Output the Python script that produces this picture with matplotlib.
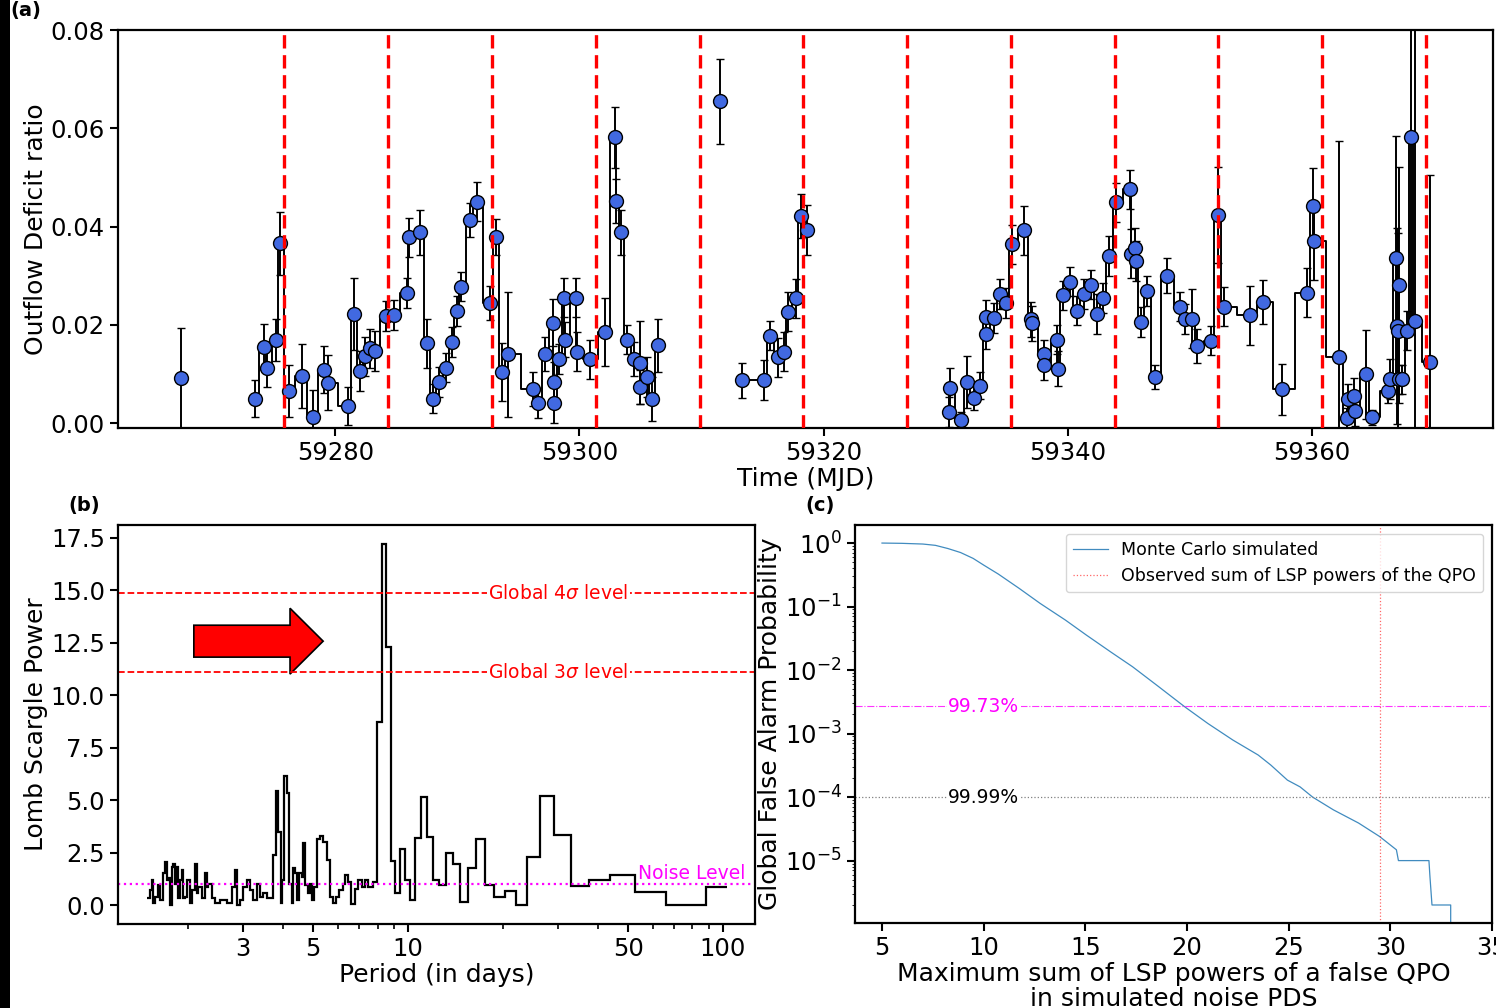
import numpy as np
import matplotlib
matplotlib.use('Agg')
import matplotlib.pyplot as plt
from matplotlib.patches import FancyArrow, Rectangle

plt.rcParams['font.family'] = 'DejaVu Sans'
plt.rcParams['mathtext.fontset'] = 'dejavusans'
plt.rcParams['axes.linewidth'] = 1.6

# ---------------- (a) outflow deficit ratio light curve ----------------
mjd = [59267.33,
       59273.39, 59274.13, 59274.43, 59275.13, 59275.43, 59276.18, 59277.23, 59278.13, 59279.10, 59279.43,
       59281.03, 59281.53, 59282.03, 59282.43, 59282.83, 59283.23, 59284.13, 59284.83, 59285.83, 59286.03,
       59286.93, 59287.53, 59288.03, 59288.53, 59289.03, 59289.53, 59289.93, 59290.33, 59291.03, 59291.59,
       59292.63, 59293.13, 59293.63, 59294.18, 59296.23, 59296.61, 59297.19, 59297.83, 59297.88, 59297.93,
       59298.33, 59298.73, 59298.78, 59299.73, 59299.78, 59300.83, 59302.13, 59302.93, 59302.98, 59303.43,
       59303.93, 59304.48, 59304.93, 59304.98, 59305.53, 59305.93, 59306.43,
       59311.53,
       59313.33, 59315.13, 59315.63, 59316.23, 59316.73, 59317.08, 59317.73, 59318.13, 59318.63,
       59330.28, 59330.33, 59331.23, 59331.73, 59332.33, 59332.83, 59333.28, 59333.33, 59333.93, 59334.43,
       59334.93, 59335.43, 59336.43, 59337.03, 59337.08, 59338.03, 59338.08, 59339.13, 59339.18, 59339.63,
       59340.23, 59340.73, 59341.33, 59341.93, 59342.43, 59342.93, 59343.43, 59343.93, 59345.13, 59345.18,
       59345.53, 59345.58, 59346.03, 59346.53, 59347.13, 59348.13, 59349.23, 59349.63, 59350.23, 59350.63,
       59351.73, 59352.33, 59352.83, 59354.93, 59356.03, 59357.60, 59359.63, 59360.13, 59360.18, 59362.23,
       59362.93, 59362.98, 59363.43, 59363.53, 59364.43, 59364.93, 59366.23, 59366.43, 59366.93, 59367.03,
       59367.08, 59367.13, 59367.18, 59367.43, 59367.83, 59368.13, 59368.43, 59369.73]
ratio = [0.0091,
         0.0050, 0.0155, 0.0113, 0.0169, 0.0366, 0.0065, 0.0096, 0.0013, 0.0109, 0.0082,
         0.0035, 0.0222, 0.0106, 0.0136, 0.0152, 0.0147, 0.0218, 0.0220, 0.0265, 0.0378,
         0.0388, 0.0162, 0.0050, 0.0084, 0.0113, 0.0165, 0.0228, 0.0278, 0.0413, 0.0451,
         0.0244, 0.0379, 0.0104, 0.0140, 0.0069, 0.0041, 0.0140, 0.0204, 0.0084, 0.0041,
         0.0130, 0.0255, 0.0170, 0.0255, 0.0145, 0.0130, 0.0185, 0.0582, 0.0452, 0.0388,
         0.0170, 0.0130, 0.0123, 0.0074, 0.0094, 0.0049, 0.0158,
         0.0655,
         0.0087, 0.0088, 0.0178, 0.0134, 0.0145, 0.0227, 0.0254, 0.0421, 0.0393,
         0.0023, 0.0072, 0.0007, 0.0084, 0.0052, 0.0076, 0.0215, 0.0181, 0.0214, 0.0263,
         0.0244, 0.0364, 0.0392, 0.0211, 0.0203, 0.0140, 0.0118, 0.0170, 0.0111, 0.0260,
         0.0288, 0.0229, 0.0263, 0.0282, 0.0222, 0.0255, 0.0340, 0.0449, 0.0476, 0.0345,
         0.0357, 0.0330, 0.0206, 0.0269, 0.0094, 0.0300, 0.0237, 0.0212, 0.0212, 0.0157,
         0.0168, 0.0424, 0.0237, 0.0219, 0.0246, 0.0069, 0.0265, 0.0442, 0.0371, 0.0135,
         0.0010, 0.0049, 0.0056, 0.0024, 0.0099, 0.0012, 0.0065, 0.0090, 0.0335, 0.0198,
         0.0187, 0.0281, 0.0089, 0.0089, 0.0188, 0.0582, 0.0208, 0.0125]
ratio_err = [0.0102,
             0.0037, 0.0046, 0.0040, 0.0043, 0.0064, 0.0053, 0.0065, 0.0054, 0.0048, 0.0056,
             0.0039, 0.0073, 0.0040, 0.0040, 0.0040, 0.0040, 0.0030, 0.0030, 0.0030, 0.0039,
             0.0045, 0.0050, 0.0030, 0.0030, 0.0030, 0.0030, 0.0030, 0.0030, 0.0035, 0.0040,
             0.0035, 0.0036, 0.0060, 0.0127, 0.0035, 0.0030, 0.0035, 0.0048, 0.0040, 0.0040,
             0.0030, 0.0040, 0.0035, 0.0040, 0.0040, 0.0040, 0.0069, 0.0062, 0.0045, 0.0045,
             0.0030, 0.0035, 0.0085, 0.0035, 0.0040, 0.0045, 0.0054,
             0.0087,
             0.0035, 0.0040, 0.0030, 0.0040, 0.0040, 0.0040, 0.0040, 0.0045, 0.0050,
             0.0030, 0.0040, 0.0015, 0.0053, 0.0025, 0.0027, 0.0035, 0.0030, 0.0030, 0.0030,
             0.0030, 0.0040, 0.0050, 0.0035, 0.0035, 0.0030, 0.0030, 0.0030, 0.0035, 0.0030,
             0.0030, 0.0030, 0.0030, 0.0030, 0.0040, 0.0030, 0.0040, 0.0040, 0.0040, 0.0050,
             0.0040, 0.0040, 0.0030, 0.0030, 0.0025, 0.0035, 0.0030, 0.0030, 0.0060, 0.0035,
             0.0030, 0.0098, 0.0040, 0.0060, 0.0045, 0.0052, 0.0050, 0.0078, 0.0080, 0.0440,
             0.0020, 0.0030, 0.0035, 0.0030, 0.0090, 0.0015, 0.0025, 0.0040, 0.0250, 0.0200,
             0.0200, 0.0240, 0.0030, 0.0030, 0.0040, 0.0400, 0.0800, 0.0380]
# observing gaps the step line does not bridge
line_breaks = [59270, 59309, 59312.5, 59325]
# expected QPO cycle times
cycle_mjd = [59275.79, 59284.32, 59292.84, 59301.37, 59309.89, 59318.33,
             59326.86, 59335.38, 59343.91, 59352.35, 59360.88, 59369.40]

# ---------------- (b) Lomb-Scargle periodogram ----------------
period_edges = [1.481, 1.517, 1.536, 1.554, 1.573, 1.612, 1.632, 1.672, 1.693, 1.713,
                1.735, 1.756, 1.777, 1.799, 1.821, 1.843, 1.866, 1.889, 1.912, 1.936,
                1.959, 1.983, 2.032, 2.057, 2.108, 2.134, 2.160, 2.213, 2.268, 2.296,
                2.324, 2.381, 2.440, 2.530, 2.657, 2.756, 2.824, 2.858, 2.929, 3.001,
                3.075, 3.151, 3.228, 3.308, 3.390, 3.474, 3.559, 3.647, 3.737, 3.802,
                3.877, 3.944, 3.992, 4.041, 4.120, 4.201, 4.273, 4.325, 4.389, 4.453,
                4.519, 4.597, 4.653, 4.710, 4.803, 4.886, 4.958, 5.043, 5.130, 5.257,
                5.386, 5.519, 5.655, 5.767, 5.906, 6.053, 6.202, 6.325, 6.464, 6.577,
                6.789, 6.955, 7.129, 7.303, 7.483, 7.762, 7.953, 8.25, 8.52, 8.81,
                9.09, 9.43, 9.78, 10.15, 10.52, 11.0, 11.46, 11.98, 12.54, 13.17,
                13.86, 14.63, 15.47, 16.44, 17.56, 18.80, 20.32, 21.97, 23.92, 26.24,
                29.14, 32.85, 37.64, 43.78, 52.70, 65.77, 88.1, 102.7]
lsp_power = [0.32, 0.71, 1.19, 0.08, 0.40, 0.95, 0.24, 1.51, 2.06, 1.19,
             1.27, 0.00, 1.83, 1.98, 1.03, 1.83, 0.32, 1.19, 1.67, 0.32,
             0.40, 1.19, 0.08, 0.71, 1.98, 0.56, 0.87, 0.32, 1.51, 0.87,
             1.03, 0.32, 0.08, 0.24, 0.08, 0.87, 1.67, 0.00, 0.24, 0.87,
             1.19, 0.71, 0.24, 1.03, 0.40, 0.56, 0.32, 0.32, 2.38, 5.43,
             3.46, 0.08, 1.19, 6.14, 5.32, 1.03, 0.08, 1.79, 1.51, 0.24,
             1.51, 1.35, 2.94, 0.95, 0.56, 1.03, 0.24, 0.87, 3.13, 3.29,
             3.02, 2.14, 0.40, 0.08, 0.40, 0.71, 1.03, 1.43, 1.11, 0.05,
             0.79, 1.19, 0.87, 1.19, 0.87, 1.11, 8.73, 17.22, 12.30, 2.11,
             0.56, 2.68, 1.19, 0.24, 3.22, 5.13, 3.25, 1.19, 0.95, 2.49,
             1.98, 0.16, 1.78, 3.13, 0.98, 0.40, 0.67, 0.03, 2.30, 5.21,
             3.33, 0.92, 1.22, 1.43, 0.63, 0.00, 0.84]
level_4sigma = 14.86
level_3sigma = 11.10
noise_level = 1.0

# ---------------- (c) global false alarm probability ----------------
mc_sum = [5.0, 5.98, 7.01, 7.63, 8.24, 8.86, 9.48, 10.0, 10.72, 11.75, 12.78, 14.02,
          15.05, 16.28, 17.32, 18.55, 19.89, 21.03, 22.26, 23.5, 24.12, 24.94, 25.56,
          26.18, 27.2, 28.44, 29.47, 30.3, 30.4, 31.9, 31.95, 32.05, 32.97, 32.97]
mc_fap = [1.0, 0.99, 0.965, 0.92, 0.82, 0.71, 0.574, 0.45, 0.325, 0.193, 0.112, 0.0613,
          0.0356, 0.019, 0.0113, 5.66e-3, 2.64e-3, 1.44e-3, 7.9e-4, 4.6e-4, 3.2e-4, 1.85e-4, 1.45e-4,
          1.0e-4, 6.3e-5, 3.9e-5, 2.4e-5, 1.48e-5, 1.0e-5, 1.0e-5, 5.6e-6, 2.0e-6, 2.0e-6, 1e-7]
observed_sum = 29.5
fap_3sigma = 2.7e-3
fap_4sigma = 1.0e-4

fig = plt.figure(figsize=(14.96, 10.08), dpi=100)
fig.patches.append(Rectangle((0, 0), 10 / 1496, 1, transform=fig.transFigure,
                             facecolor='black', edgecolor='none', zorder=-1))

# ---- panel (a)
ax1 = fig.add_axes([0.0789, 0.5754, 0.9191, 0.3948])
t = np.array(mjd)
r = np.array(ratio)
seg = np.searchsorted(line_breaks, t)
for s in np.unique(seg):
    m = seg == s
    ax1.plot(t[m], r[m], drawstyle='steps-mid', color='k', lw=1.4, zorder=2)
ax1.errorbar(t, r, yerr=ratio_err, fmt='o', ms=10, mfc='royalblue', mec='k', mew=1,
             ecolor='k', elinewidth=1.4, capsize=3, capthick=1, zorder=3)
for c in cycle_mjd:
    ax1.axvline(c, color='red', ls='--', lw=2.4, dashes=(4, 2), zorder=4)
ax1.set_xlim(59262.19, 59374.86)
ax1.set_ylim(-0.001, 0.08)
ax1.set_xticks([59280, 59300, 59320, 59340, 59360])
ax1.set_yticks([0.0, 0.02, 0.04, 0.06, 0.08])
ax1.set_xlabel('Time (MJD)', fontsize=18, labelpad=1)
ax1.set_ylabel('Outflow Deficit ratio', fontsize=18, labelpad=2)
ax1.tick_params(labelsize=17.5, length=6, width=1.5)

# ---- panel (b)
ax2 = fig.add_axes([0.0789, 0.0833, 0.4258, 0.3958])
ax2.stairs(lsp_power, period_edges, baseline=None, color='k', lw=1.6)
ax2.set_xscale('log')
ax2.set_xlim(1.2, 126.4)
ax2.set_ylim(-0.9, 18.1)
ax2.set_xticks([3, 5, 10, 50, 100])
ax2.set_xticklabels(['3', '5', '10', '50', '100'])
ax2.set_yticks(np.arange(0, 17.6, 2.5))
ax2.axhline(level_4sigma, color='red', ls='--', lw=1.3)
ax2.axhline(level_3sigma, color='red', ls='--', lw=1.3)
ax2.axhline(noise_level, color='magenta', ls=':', lw=1.6)
for lev, lab in [(level_4sigma, r'Global 4$\sigma$ level'), (level_3sigma, r'Global 3$\sigma$ level')]:
    ax2.text(30, lev, lab, color='red', fontsize=13.5, ha='center', va='center',
             bbox=dict(facecolor='white', edgecolor='none', pad=1))
ax2.text(118, 1.5, 'Noise Level', color='magenta', fontsize=13.5, ha='right', va='center')
ax2.add_patch(FancyArrow(0.119, 0.709, 0.203, 0, width=0.080, head_width=0.165,
                         head_length=0.052, length_includes_head=True,
                         transform=ax2.transAxes, facecolor='red', edgecolor='k', lw=1.2))
ax2.set_xlabel('Period (in days)', fontsize=18, labelpad=1)
ax2.set_ylabel('Lomb Scargle Power', fontsize=18, labelpad=2)
ax2.tick_params(labelsize=17.5, length=6, width=1.5)
ax2.tick_params(which='minor', length=3.5, width=1.2)

# ---- panel (c)
ax3 = fig.add_axes([0.5715, 0.0843, 0.4258, 0.3948])
ax3.plot(mc_sum, mc_fap, color='#1f77b4', lw=0.9, alpha=0.85, label='Monte Carlo simulated')
ax3.axvline(observed_sum, color='red', ls=':', lw=0.9, alpha=0.6,
            label='Observed sum of LSP powers of the QPO')
ax3.axhline(fap_3sigma, color='magenta', ls='-.', lw=0.8, alpha=0.8)
ax3.axhline(fap_4sigma, color='gray', ls=':', lw=0.9)
ax3.text(10, fap_3sigma, '99.73%', color='magenta', fontsize=13.5, ha='center', va='center',
         bbox=dict(facecolor='white', edgecolor='none', pad=1))
ax3.text(10, fap_4sigma, '99.99%', color='k', fontsize=13.5, ha='center', va='center',
         bbox=dict(facecolor='white', edgecolor='none', pad=1))
ax3.set_yscale('log')
ax3.set_xlim(3.67, 35)
ax3.set_ylim(1.04e-6, 1.92)
ax3.set_xticks([5, 10, 15, 20, 25, 30, 35])
ax3.set_yticks([1, 1e-1, 1e-2, 1e-3, 1e-4, 1e-5])
ax3.set_xlabel('Maximum sum of LSP powers of a false QPO\nin simulated noise PDS',
               fontsize=18, labelpad=1, linespacing=1.05)
ax3.set_ylabel('Global False Alarm Probability', fontsize=18, labelpad=2)
ax3.tick_params(labelsize=17.5, length=6, width=1.5)
ax3.legend(loc='upper right', fontsize=12.5)

fig.text(0.0067, 0.990, '(a)', fontsize=14, fontweight='bold', ha='left', va='center')
fig.text(0.0561, 0.499, '(b)', fontsize=14, fontweight='bold', ha='center', va='center')
fig.text(0.548, 0.499, '(c)', fontsize=14, fontweight='bold', ha='center', va='center')

fig.savefig('out.png', dpi=100)
